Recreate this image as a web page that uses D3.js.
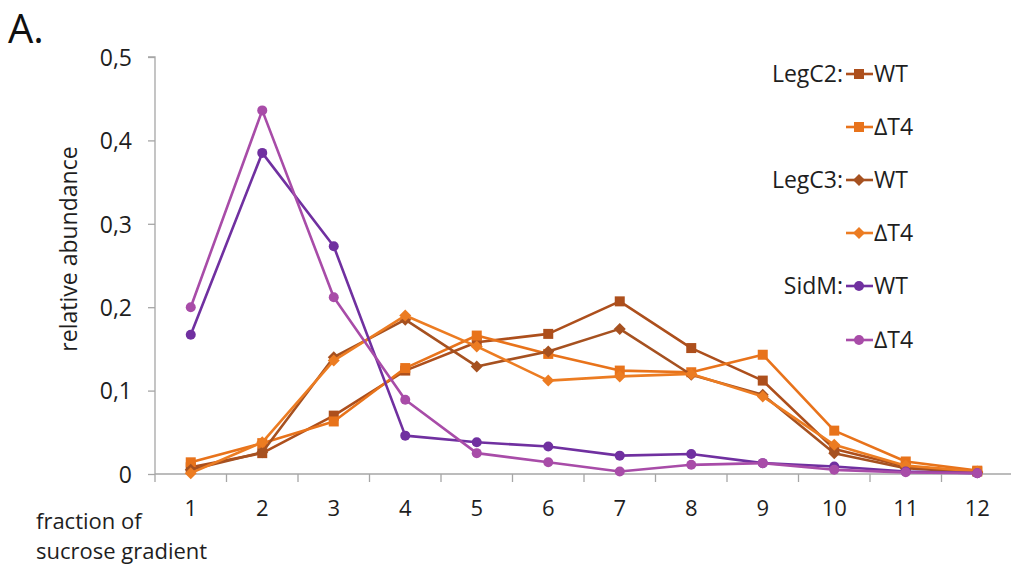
<!DOCTYPE html>
<html>
<head>
<meta charset="utf-8">
<script src="https://cdn.jsdelivr.net/npm/d3@7"></script>
<style>
  html, body { margin: 0; padding: 0; background: #fff; }
  svg { display: block; font-family: "Open Sans", "DejaVu Sans", sans-serif; }
</style>
</head>
<body>
<svg id="chart" width="1011" height="570"></svg>
<script>
// Fractions of the sucrose gradient (x categories)
const fractions = ["1", "2", "3", "4", "5", "6", "7", "8", "9", "10", "11", "12"];

// Relative abundance per fraction
const legC2WT  = [0.008, 0.025, 0.070, 0.124, 0.158, 0.168, 0.207, 0.151, 0.112, 0.030, 0.009, 0.003];
const legC2dT4 = [0.014, 0.037, 0.063, 0.127, 0.166, 0.144, 0.124, 0.122, 0.143, 0.052, 0.015, 0.004];
const legC3WT  = [0.005, 0.026, 0.140, 0.185, 0.129, 0.147, 0.174, 0.119, 0.095, 0.025, 0.007, 0.002];
const legC3dT4 = [0.001, 0.038, 0.136, 0.190, 0.153, 0.112, 0.117, 0.120, 0.093, 0.035, 0.010, 0.003];
const sidMWT   = [0.167, 0.385, 0.273, 0.046, 0.038, 0.033, 0.022, 0.024, 0.013, 0.009, 0.003, 0.001];
const sidMdT4  = [0.200, 0.436, 0.212, 0.089, 0.025, 0.014, 0.003, 0.011, 0.013, 0.005, 0.002, 0.001];

const yTicks = [0, 0.1, 0.2, 0.3, 0.4, 0.5];
const yTickLabels = ["0", "0,1", "0,2", "0,3", "0,4", "0,5"];

const series = [
  { group: "LegC2:", name: "WT",  values: legC2WT,  color: "#ad4f1c", marker: "square" },
  { group: "",       name: "\u2206T4", values: legC2dT4, color: "#e8731b", marker: "square" },
  { group: "LegC3:", name: "WT",  values: legC3WT,  color: "#a65120", marker: "diamond" },
  { group: "",       name: "\u2206T4", values: legC3dT4, color: "#ec7c22", marker: "diamond" },
  { group: "SidM:",  name: "WT",  values: sidMWT,   color: "#7030a0", marker: "circle" },
  { group: "",       name: "\u2206T4", values: sidMdT4,  color: "#a84ca8", marker: "circle" }
];

const svg = d3.select("#chart");
const plotLeft = 155, plotRight = 1013, plotTop = 57, plotBottom = 474;
const axisColor = "#a6a6a6";
const textColor = "#1e1e1e";

const x = d3.scaleBand().domain(fractions).range([plotLeft, plotRight]).padding(0);
const cx = d => x(d) + x.bandwidth() / 2;
const y = d3.scaleLinear().domain([0, 0.5]).range([plotBottom, plotTop]);

// Y axis
const yAxis = d3.axisLeft(y).tickValues(yTicks).tickSize(7)
  .tickFormat((d, i) => yTickLabels[i]);
const gy = svg.append("g").attr("transform", `translate(${plotLeft},0)`).call(yAxis);
gy.select(".domain").attr("stroke", axisColor).attr("stroke-width", 1.3)
  .attr("d", `M-7,${plotTop}H0V${plotBottom + 8}`);
gy.selectAll(".tick line").attr("stroke", axisColor).attr("stroke-width", 1.3);
gy.selectAll(".tick text").attr("fill", textColor).attr("font-size", 23)
  .attr("x", -23).attr("dy", "0.36em").style("font-family", "'Open Sans', sans-serif");

// X axis: labels centred in each band, tick marks on band boundaries
const gx = svg.append("g").attr("transform", `translate(0,${plotBottom})`);
gx.append("line").attr("x1", plotLeft).attr("x2", plotRight).attr("y1", 0).attr("y2", 0)
  .attr("stroke", axisColor).attr("stroke-width", 1.3);
gx.selectAll("line.tk").data(fractions).enter().append("line").attr("class", "tk")
  .attr("x1", d => x(d) + x.bandwidth()).attr("x2", d => x(d) + x.bandwidth())
  .attr("y1", 0).attr("y2", 8).attr("stroke", axisColor).attr("stroke-width", 1.3);
gx.selectAll("text").data(fractions).enter().append("text")
  .attr("x", d => cx(d)).attr("y", 42).attr("text-anchor", "middle")
  .attr("font-size", 22).attr("fill", textColor).text(d => d);

// Axis titles and panel letter
svg.append("text").attr("transform", "translate(77,249) rotate(-90)")
  .attr("text-anchor", "middle").attr("font-size", 23).attr("fill", textColor)
  .text("relative abundance");
svg.append("text").attr("x", 36).attr("y", 529).attr("font-size", 22).attr("fill", textColor)
  .text("fraction of");
svg.append("text").attr("x", 36).attr("y", 559).attr("font-size", 22).attr("fill", textColor)
  .text("sucrose gradient");
svg.append("text").attr("x", 8).attr("y", 43).attr("font-size", 40).attr("fill", "#111")
  .text("A.");

// Marker drawing
function drawMarker(g, type, px, py, color) {
  if (type === "square") {
    g.append("rect").attr("x", px - 5).attr("y", py - 5).attr("width", 10).attr("height", 10)
      .attr("fill", color);
  } else if (type === "diamond") {
    g.append("path").attr("d", `M${px},${py - 6}L${px + 6},${py}L${px},${py + 6}L${px - 6},${py}Z`)
      .attr("fill", color);
  } else {
    g.append("circle").attr("cx", px).attr("cy", py).attr("r", 5).attr("fill", color);
  }
}

const line = d3.line().x((d, i) => cx(fractions[i])).y(d => y(d));

series.forEach(s => {
  const g = svg.append("g");
  g.append("path").datum(s.values).attr("d", line).attr("fill", "none")
    .attr("stroke", s.color).attr("stroke-width", 2.6).attr("stroke-linejoin", "round");
  s.values.forEach((v, i) => drawMarker(g, s.marker, cx(fractions[i]), y(v), s.color));
});

// Legend
const legendRows = [74, 127, 180, 233, 286, 340];
series.forEach((s, i) => {
  const ry = legendRows[i];
  const g = svg.append("g");
  if (s.group) {
    g.append("text").attr("x", 843).attr("y", ry).attr("dy", "0.35em")
      .attr("text-anchor", "end").attr("font-size", 23).attr("fill", textColor).text(s.group);
  }
  g.append("line").attr("x1", 846).attr("x2", 873).attr("y1", ry).attr("y2", ry)
    .attr("stroke", s.color).attr("stroke-width", 2.6);
  drawMarker(g, s.marker, 859, ry, s.color);
  g.append("text").attr("x", 874).attr("y", ry).attr("dy", "0.35em")
    .attr("font-size", 23).attr("fill", textColor).text(s.name);
});
</script>
</body>
</html>
